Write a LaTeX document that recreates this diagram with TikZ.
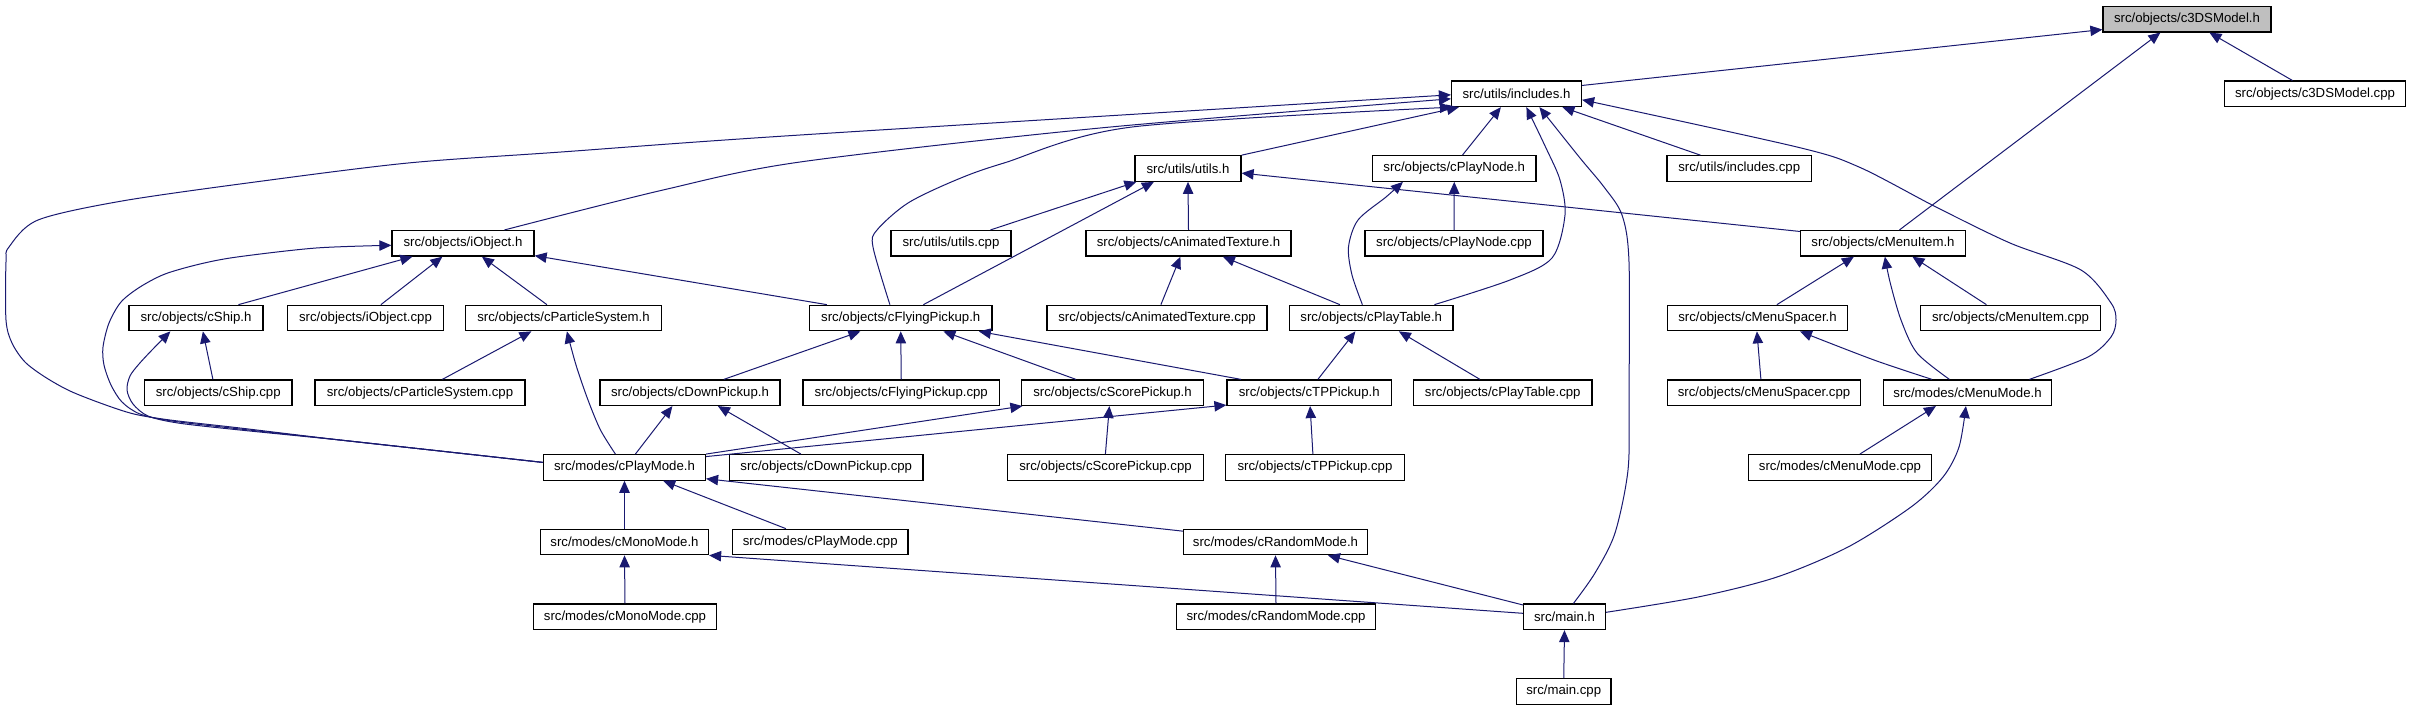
\documentclass[tikz,border=0pt]{standalone}
\usepackage{fontspec}
\setmainfont{Liberation Sans}
\usetikzlibrary{arrows.meta,calc}
\definecolor{edgeblue}{RGB}{25,25,112}
\definecolor{grayfill}{RGB}{191,191,191}
\newcommand{\gnode}[6][]{%
  \pgfmathsetmacro{\gcx}{(#3+#4)/2}%
  \pgfmathsetmacro{\gw}{(#4-#3)*0.5}%
  \node[gbox,#1,minimum width=\gw pt] (#2) at (\gcx,#5) {#6};}
\begin{document}
\begin{tikzpicture}[x=0.5pt,y=-0.5pt,
  gbox/.style={draw=black,fill=white,line width=0.6pt,rectangle,inner sep=0pt,
    minimum height=12.75pt,font=\fontsize{6.6pt}{8pt}\selectfont},
  edge/.style={draw=edgeblue,line width=0.5pt,-{Triangle[length=6pt,width=5.2pt]}},
  sm/.style={smooth,tension=0.5}]
\useasboundingbox[fill=white] (0,0) rectangle (2411,709);
% nodes
\gnode[fill=grayfill]{c3DS}{2103}{2271}{19.2}{src/objects/c3DSModel.h}
\gnode{inc}{1451.5}{1581.5}{93.8}{src/utils/includes.h}
\gnode{c3DScpp}{2224.5}{2405.5}{93.8}{src/objects/c3DSModel.cpp}
\gnode{utilsh}{1135}{1241}{168.5}{src/utils/utils.h}
\gnode{playnodeh}{1372.5}{1536}{168.5}{src/objects/cPlayNode.h}
\gnode{inccpp}{1667}{1811.5}{168.5}{src/utils/includes.cpp}
\gnode{iobjh}{392}{534}{243.3}{src/objects/iObject.h}
\gnode{utilscpp}{891}{1011}{243.3}{src/utils/utils.cpp}
\gnode{animh}{1086}{1291}{243.3}{src/objects/cAnimatedTexture.h}
\gnode{playnodecpp}{1365}{1543}{243.3}{src/objects/cPlayNode.cpp}
\gnode{menuitemh}{1800.5}{1965.5}{243.3}{src/objects/cMenuItem.h}
\gnode{shiph}{129}{263}{318}{src/objects/cShip.h}
\gnode{iobjcpp}{287.5}{443.5}{318}{src/objects/iObject.cpp}
\gnode{partsysh}{465.5}{661.5}{318}{src/objects/cParticleSystem.h}
\gnode{flyh}{809.5}{992}{318}{src/objects/cFlyingPickup.h}
\gnode{animcpp}{1047}{1267}{318}{src/objects/cAnimatedTexture.cpp}
\gnode{playtableh}{1289.5}{1453}{318}{src/objects/cPlayTable.h}
\gnode{menuspacerh}{1667.5}{1847.5}{318}{src/objects/cMenuSpacer.h}
\gnode{menuitemcpp}{1920.5}{2100.5}{318}{src/objects/cMenuItem.cpp}
\gnode{shipcpp}{144.5}{292}{392.7}{src/objects/cShip.cpp}
\gnode{partsyscpp}{315}{525}{392.7}{src/objects/cParticleSystem.cpp}
\gnode{downh}{600}{780}{392.7}{src/objects/cDownPickup.h}
\gnode{flycpp}{803}{999.5}{392.7}{src/objects/cFlyingPickup.cpp}
\gnode{scoreh}{1021.5}{1203.5}{392.7}{src/objects/cScorePickup.h}
\gnode{tph}{1227}{1391.5}{392.7}{src/objects/cTPPickup.h}
\gnode{playtablecpp}{1413.5}{1592}{392.7}{src/objects/cPlayTable.cpp}
\gnode{menuspacercpp}{1667.5}{1860.5}{392.7}{src/objects/cMenuSpacer.cpp}
\gnode{menumodeh}{1883.5}{2051.5}{392.7}{src/modes/cMenuMode.h}
\gnode{playmodeh}{543.5}{705.5}{467.4}{src/modes/cPlayMode.h}
\gnode{downcpp}{729.5}{923}{467.4}{src/objects/cDownPickup.cpp}
\gnode{scorecpp}{1007.5}{1203.5}{467.4}{src/objects/cScorePickup.cpp}
\gnode{tpcpp}{1225.5}{1404.5}{467.4}{src/objects/cTPPickup.cpp}
\gnode{menumodecpp}{1748.5}{1931.5}{467.4}{src/modes/cMenuMode.cpp}
\gnode{monoh}{540.5}{708.5}{542}{src/modes/cMonoMode.h}
\gnode{playmodecpp}{732.5}{908}{542}{src/modes/cPlayMode.cpp}
\gnode{randomh}{1183.5}{1367.5}{542}{src/modes/cRandomMode.h}
\gnode{monocpp}{533.5}{716.5}{616.8}{src/modes/cMonoMode.cpp}
\gnode{randomcpp}{1176.5}{1375.5}{616.8}{src/modes/cRandomMode.cpp}
\gnode{mainh}{1523.5}{1605.5}{616.8}{src/main.h}
\gnode{maincpp}{1516.5}{1611}{691.5}{src/main.cpp}
% named end points for curved connectors
\coordinate (pmw) at ($(playmodeh.west)+(0,-5)$);
\coordinate (e4b) at ($(inc.west)+(0,1)$);
\coordinate (e5a) at ($(iobjh.north west)+(113,0)$);
\coordinate (e5b) at ($(inc.west)+(0,5)$);
\coordinate (e6a) at ($(flyh.north west)+(81,0)$);
\coordinate (e6b) at ($(inc.south west)+(1,0)$);
\coordinate (e9a) at ($(playtableh.north west)+(145.5,0)$);
\coordinate (e9b) at ($(inc.south west)+(75.5,0)$);
\coordinate (e10a) at ($(mainh.north west)+(50.5,0)$);
\coordinate (e10b) at ($(inc.south west)+(88.5,0)$);
\coordinate (e12a) at ($(menumodeh.north west)+(146.5,0)$);
\coordinate (e12b) at ($(inc.east)+(0,6)$);
\coordinate (e17a) at ($(playtableh.north west)+(73.5,0)$);
\coordinate (e17b) at ($(playnodeh.south west)+(31,0)$);
\coordinate (e23b) at ($(iobjh.west)+(0,2)$);
\coordinate (e24b) at ($(shiph.south west)+(42,0)$);
\coordinate (e27a) at ($(playmodeh.north west)+(72.5,0)$);
\coordinate (e27b) at ($(partsysh.south west)+(102,0)$);
\coordinate (e38a) at ($(menumodeh.north west)+(66.5,0)$);
\coordinate (e38b) at ($(menuitemh.south west)+(85,0)$);
\coordinate (e40a) at ($(menumodeh.north west)+(49,0)$);
\coordinate (e40b) at ($(menuspacerh.south west)+(133,0)$);
\coordinate (e48a) at ($(mainh.east)+(0,-4.5)$);
\coordinate (e48b) at ($(menumodeh.south west)+(83,0)$);
% connectors
\draw[edge] ($(inc.north east)+(0,5)$) -- ($(c3DS.south west)+(0,-3)$);
\draw[edge] ($(c3DScpp.north west)+(68.5,0)$) -- ($(c3DS.south west)+(107,0)$);
\draw[edge] ($(menuitemh.north west)+(99.5,0)$) -- ($(c3DS.south west)+(58,0)$);
\draw[edge] plot[sm] coordinates {(pmw) (440,451) (340,440) (240,428) (170,420) (134,414) (103,404) (70,391) (45,377) (25,362) (12,343) (6,320) (6,262) (9,247) (38,220) (122,201) (255,182) (408,163) (561,152) (800,135) (e4b)};
\draw[edge] plot[sm] coordinates {(e5a) (663,190) (800,162) (1100,128) (e5b)};
\draw[edge] plot[sm] coordinates {(e6a) (873,247) (877,230) (908,203) (956,180) (1004,163) (1132,127) (e6b)};
\draw[edge] (utilsh.north east) -- ($(inc.south west)+(8,0)$);
\draw[edge] ($(playnodeh.north west)+(90.5,0)$) -- ($(inc.south west)+(50,0)$);
\draw[edge] plot[sm] coordinates {(e9a) (1510,280) (1552,258) (1565,215) (1560,180) (1546,148) (e9b)};
\draw[edge] plot[sm] coordinates {(e10a) (1595,573) (1615,533) (1628,470) (1629,400) (1629,262) (1622,215) (1604,187) (1580,158) (e10b)};
\draw[edge] ($(inccpp.north west)+(34,0)$) -- ($(inc.south west)+(111.5,0)$);
\draw[edge] plot[sm] coordinates {(e12a) (2088,357) (2111,337) (2116,320) (2111,303) (2081,270) (2010,243) (1936,207) (1859,167) (1797,147) (e12b)};
\draw[edge] ($(utilscpp.north west)+(100,0)$) -- ($(utilsh.south west)+(2,0)$);
\draw[edge] ($(flyh.north west)+(114.5,0)$) -- ($(utilsh.south west)+(19.5,0)$);
\draw[edge] (animh.north) -- (utilsh.south);
\draw[edge] ($(menuitemh.north west)+(0,1.5)$) -- ($(utilsh.east)+(0,4.6)$);
\draw[edge] plot[sm] coordinates {(e17a) (1352,275) (1348.5,247) (1358,220) (1386,197) (e17b)};
\draw[edge] (playnodecpp.north) -- (playnodeh.south);
\draw[edge] ($(shiph.north west)+(110,0)$) -- ($(iobjh.south west)+(21,0)$);
\draw[edge] ($(iobjcpp.north west)+(94,0)$) -- ($(iobjh.south west)+(51,0)$);
\draw[edge] ($(partsysh.north west)+(82,0)$) -- ($(iobjh.south west)+(90.5,0)$);
\draw[edge] ($(flyh.north west)+(18,0)$) -- ($(iobjh.south east)+(0,-1)$);
\draw[edge] plot[sm] coordinates {(pmw) (440,451) (340,440) (240,429) (172,421) (140,414) (122,402) (111,385) (104,365) (103,347) (109,323) (121,302) (140,287) (165,274) (200,264) (237,257) (316,248) (e23b)};
\draw[edge] plot[sm] coordinates {(pmw) (440,451) (340,440) (240,430) (178,423) (148,416) (133,404) (127,390) (130,376) (139,364) (152,350) (e24b)};
\draw[edge] ($(shipcpp.north west)+(69,0)$) -- ($(shiph.south west)+(74.5,0)$);
\draw[edge] ($(partsyscpp.north west)+(128,0)$) -- ($(partsysh.south west)+(66.5,0)$);
\draw[edge] plot[sm] coordinates {(e27a) (600.5,430) (588,400) (576,365) (e27b)};
\draw[edge] ($(downh.north west)+(124.5,0)$) -- ($(flyh.south west)+(51.5,0)$);
\draw[edge] (flycpp.north) -- (flyh.south);
\draw[edge] ($(scoreh.north west)+(55,0)$) -- ($(flyh.south west)+(134.5,0)$);
\draw[edge] ($(tph.north west)+(14.5,0)$) -- ($(flyh.south west)+(170,0)$);
\draw[edge] ($(tph.north west)+(91.5,0)$) -- ($(playtableh.south west)+(66.5,0)$);
\draw[edge] ($(playtablecpp.north west)+(67,0)$) -- ($(playtableh.south west)+(110,0)$);
\draw[edge] ($(animcpp.north west)+(114.5,0)$) -- ($(animh.south west)+(95,0)$);
\draw[edge] ($(playtableh.north west)+(51,0)$) -- ($(animh.south west)+(137.5,0)$);
\draw[edge] ($(menuspacerh.north west)+(110,0)$) -- ($(menuitemh.south west)+(54,0)$);
\draw[edge] ($(menuitemcpp.north west)+(66.5,0)$) -- ($(menuitemh.south west)+(112.5,0)$);
\draw[edge] plot[sm] coordinates {(e38a) (1917,353) (1901,320) (1890,282) (e38b)};
\draw[edge] ($(menuspacercpp.north west)+(94,0)$) -- ($(menuspacerh.south west)+(90,0)$);
\draw[edge] plot[sm] coordinates {(e40a) (1874,360) (e40b)};
\draw[edge] ($(playmodeh.north west)+(92.5,0)$) -- ($(downh.south west)+(73,0)$);
\draw[edge] ($(downcpp.north west)+(72,0)$) -- ($(downh.south west)+(118.5,0)$);
\draw[edge] (playmodeh.north east) -- ($(scoreh.south west)+(1.5,0)$);
\draw[edge] ($(playmodeh.north east)+(0,2.5)$) -- ($(tph.south west)+(0,-1)$);
\draw[edge] ($(scorecpp.north west)+(98.5,0)$) -- ($(scoreh.south west)+(88.5,0)$);
\draw[edge] ($(tpcpp.north west)+(88,0)$) -- ($(tph.south west)+(83.7,0)$);
\draw[edge] ($(menumodecpp.north west)+(112,0)$) -- ($(menumodeh.south west)+(53,0)$);
\draw[edge] plot[sm] coordinates {(e48a) (1698,597) (1777,577) (1848,547) (1911,507) (1943,477) (1959,447) (e48b)};
\draw[edge] (monoh.north) -- (playmodeh.south);
\draw[edge] ($(playmodecpp.north west)+(54,0)$) -- ($(playmodeh.south west)+(120.3,0)$);
\draw[edge] ($(randomh.north west)+(0,2.5)$) -- ($(playmodeh.south east)+(0,-2)$);
\draw[edge] (monocpp.north) -- (monoh.south);
\draw[edge] ($(mainh.west)+(0,-3.5)$) -- (monoh.south east);
\draw[edge] (randomcpp.north) -- (randomh.south);
\draw[edge] ($(mainh.north west)+(0,1.5)$) -- ($(randomh.south west)+(145,0)$);
\draw[edge] (maincpp.north) -- (mainh.south);
\end{tikzpicture}
\end{document}
